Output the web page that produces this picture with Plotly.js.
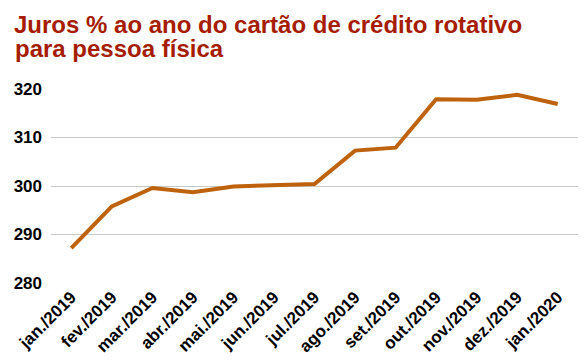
<!DOCTYPE html>
<html>
<head>
<meta charset="utf-8">
<script src="https://cdn.plot.ly/plotly-3.0.1.min.js"></script>
<style>html,body{margin:0;padding:0;background:#fff;}#chart{width:586px;height:361px;}</style>
</head>
<body>
<div id="chart"></div>
<script>
const months = ["jan./2019","fev./2019","mar./2019","abr./2019","mai./2019","jun./2019","jul./2019","ago./2019","set./2019","out./2019","nov./2019","dez./2019","jan./2020"];
const rates = [287.2, 295.8, 299.6, 298.7, 299.9, 300.2, 300.4, 307.3, 307.9, 317.9, 317.8, 318.8, 316.9];
const yTicks = [280, 290, 300, 310, 320];
const titleLine1 = "Juros % ao ano do cartão de crédito rotativo";
const titleLine2 = "para pessoa física";

const FONT = "Liberation Sans, Arial, sans-serif";
const W = 586, H = 361;
const titleFont = {family: FONT, size: 24, color: "#a61c00", weight: "bold"};

Plotly.newPlot("chart", [{
  x: months,
  y: rates,
  type: "scatter",
  mode: "lines",
  line: {color: "#bf620e", width: 4},
  hoverinfo: "none"
}], {
  width: W,
  height: H,
  margin: {l: 51, r: 8, t: 89, b: 78},
  paper_bgcolor: "#ffffff",
  plot_bgcolor: "#ffffff",
  showlegend: false,
  title: {
    text: titleLine1,
    font: titleFont,
    x: 14 / W, xref: "container", xanchor: "left",
    y: 1 - 25 / H, yref: "container", yanchor: "middle",
    pad: {t: 0, l: 0, r: 0, b: 0}
  },
  annotations: [{
    text: titleLine2,
    font: titleFont,
    xref: "paper", yref: "paper",
    x: (14 - 51) / (W - 51 - 8), xanchor: "left",
    y: (283 - 48) / (283 - 89), yanchor: "middle",
    showarrow: false,
    borderpad: 0
  }],
  xaxis: {
    type: "category",
    range: [-0.5, months.length - 0.5],
    tickangle: -45,
    tickfont: {family: FONT, size: 17, color: "#000", weight: "bold"},
    showgrid: false,
    zeroline: false,
    showline: false,
    ticks: "",
    fixedrange: true
  },
  yaxis: {
    range: [280, 320],
    tickvals: yTicks,
    ticktext: yTicks.map(String),
    tickfont: {family: FONT, size: 17, color: "#000", weight: "bold"},
    showgrid: true,
    gridcolor: "#c8c8c8",
    gridwidth: 1,
    zeroline: false,
    showline: false,
    ticks: "",
    ticklabelstandoff: 8,
    fixedrange: true
  }
}, {displayModeBar: false, staticPlot: true});
</script>
</body>
</html>
